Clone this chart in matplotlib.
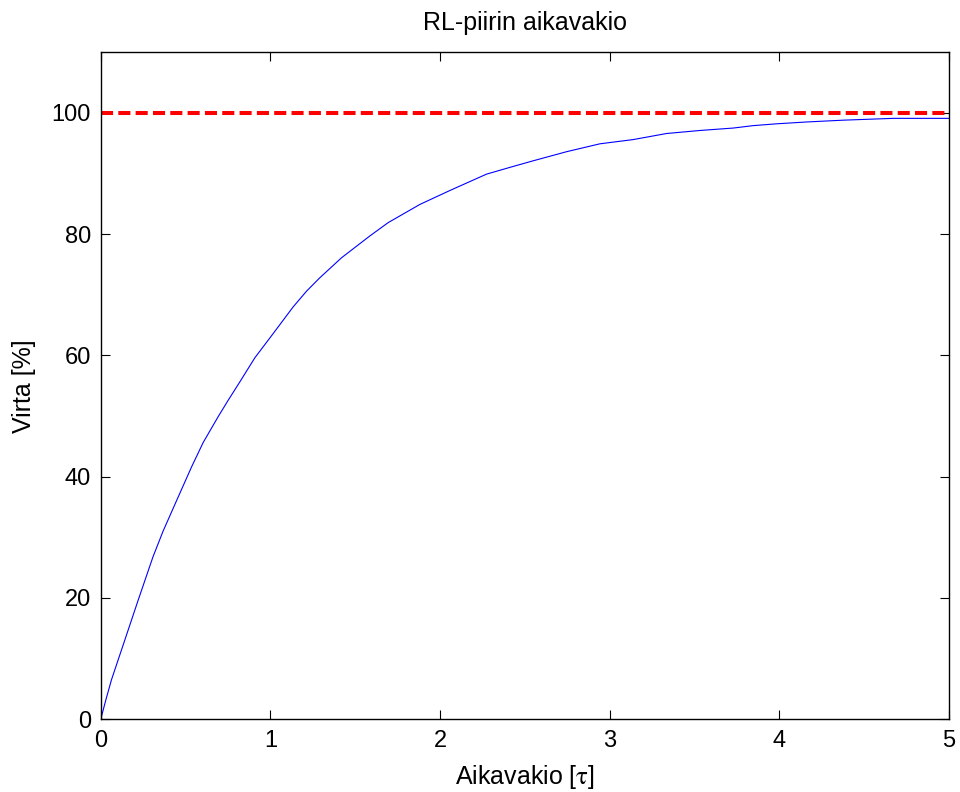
import matplotlib
matplotlib.use('Agg')
import matplotlib.pyplot as plt

plt.rcParams['font.family'] = ['Liberation Sans', 'DejaVu Sans']
plt.rcParams['mathtext.fontset'] = 'stix'

# curve (time in tau, current in %)
t = [0.0, 0.03, 0.063, 0.141, 0.22, 0.308, 0.367, 0.446, 0.535, 0.603, 0.692,
     0.751, 0.819, 0.908, 1.0, 1.134, 1.213, 1.291, 1.419, 1.586, 1.694,
     1.881, 2.058, 2.274, 2.41, 2.549, 2.746, 2.942, 3.139, 3.335, 3.532,
     3.728, 3.846, 3.984, 4.16, 4.377, 4.672, 5.0]
virta = [0.0, 3.2, 6.5, 13.0, 19.6, 26.8, 31.0, 36.0, 41.6, 45.6, 49.9,
         52.6, 55.6, 59.6, 63.0, 68.0, 70.6, 72.8, 76.1, 79.7, 81.9,
         84.9, 87.2, 89.9, 91.0, 92.1, 93.6, 94.9, 95.6, 96.6, 97.1,
         97.5, 97.9, 98.2, 98.5, 98.8, 99.1, 99.1]
raja = 100
xticks = [0, 1, 2, 3, 4, 5]
yticks = [0, 20, 40, 60, 80, 100]

fig = plt.figure(figsize=(9.6, 7.92), dpi=100)
ax = fig.add_axes([0.105, 0.092, 0.8835, 0.842])

ax.plot(t, virta, color='#0000ff', lw=0.8)
ax.axhline(raja, color='#ff0000', lw=2.9, linestyle=(0, (3.0, 1.3)))

ax.set_xlim(0, 5)
ax.set_ylim(0, 110)
ax.set_xticks(xticks)
ax.set_yticks(yticks)
ax.tick_params(direction='in', length=6.5, width=0.8, labelsize=17,
               top=True, right=True)
ax.tick_params(axis='x', pad=8)
ax.tick_params(axis='y', pad=7)
for s in ax.spines.values():
    s.set_linewidth(1.0)

ax.set_title('RL-piirin aikavakio', fontsize=18, pad=16)
ax.set_xlabel('Aikavakio [$\\mathrm{\\tau}$]', fontsize=18, labelpad=8)
ax.set_ylabel('Virta [%]', fontsize=18, labelpad=11)

fig.savefig('out.png', dpi=100)
